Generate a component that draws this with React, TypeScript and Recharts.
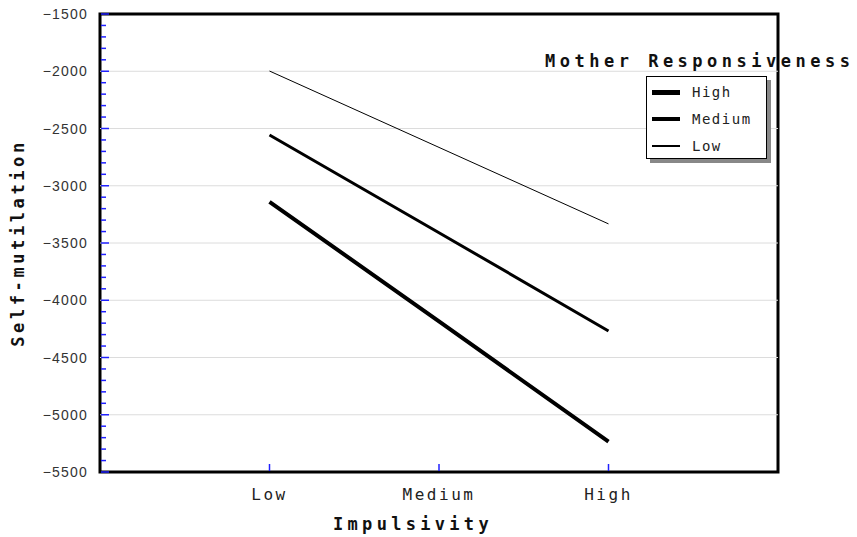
import React from "react";
import {
  LineChart,
  Line,
  XAxis,
  YAxis,
  ReferenceLine,
  ReferenceArea,
  Legend,
} from "recharts";

// impulsivity categories on the x axis
const categories = ["Low", "Medium", "High"];

// self-mutilation per mother responsiveness level
const highValues = [-3140, -4185, -5235];
const mediumValues = [-2557, -3410, -4268];
const lowValues = [-1998, -2665, -3333];

const seriesNames = ["High", "Medium", "Low"];
const seriesWidths = [4, 3, 1];
const legendWidths = [5, 4, 2];

const majorTicks = [-5500, -5000, -4500, -4000, -3500, -3000, -2500, -2000, -1500];
const minorTicks: number[] = [];
for (let v = -5500; v <= -1500; v += 100) minorTicks.push(v);
const gridValues = majorTicks.slice(1, -1);

const chartData = categories.map((c, i) => ({
  x: i + 1,
  name: c,
  High: highValues[i],
  Medium: mediumValues[i],
  Low: lowValues[i],
}));

const MONO = "'DejaVu Sans Mono', monospace";
const SANS = "'Liberation Sans', Arial, sans-serif";

const YTick = (props: any) => {
  const { x, y, payload } = props;
  const major = payload.value % 500 === 0;
  return (
    <g>
      <line x1={x + 1} x2={x + (major ? 9 : 6)} y1={y} y2={y} stroke="#2020ff" strokeWidth={1.5} />
      {major && (
        <text x={x - 12} y={y + 5} textAnchor="end" fontFamily={SANS} fontSize={14} letterSpacing={1.2} fill="#333">
          {payload.value < 0 ? "\u2212" + Math.abs(payload.value) : payload.value}
        </text>
      )}
    </g>
  );
};

const XTick = (props: any) => {
  const { x, y, payload } = props;
  return (
    <g>
      <line x1={x} x2={x} y1={y - 1} y2={y - 8} stroke="#2020ff" strokeWidth={1.5} />
      <text x={x} y={y + 28} textAnchor="middle" fontFamily={MONO} fontSize={16} letterSpacing={2.5} fill="#222">
        {categories[payload.value - 1]}
      </text>
    </g>
  );
};

const LegendBox = () => (
  <div style={{ position: "relative", width: 320, height: 120 }}>
    <div
      style={{
        position: "absolute",
        left: 0,
        top: 1,
        fontFamily: MONO,
        fontWeight: "bold",
        fontSize: 17,
        letterSpacing: 4.5,
        color: "#111",
        whiteSpace: "nowrap",
      }}
    >
      Mother Responsiveness
    </div>
    <div
      style={{
        position: "absolute",
        left: 101,
        top: 26,
        width: 119,
        height: 81,
        border: "1px solid #000",
        background: "#fff",
        boxShadow: "4px 4px 0 #888",
      }}
    >
      {seriesNames.map((n, i) => (
        <div key={n} style={{ position: "absolute", left: 5, top: 7 + i * 27, height: 16, display: "flex", alignItems: "center" }}>
          <div style={{ width: 28, height: legendWidths[i], background: "#000" }} />
          <span style={{ marginLeft: 12, fontFamily: MONO, fontSize: 14, letterSpacing: 1.5, color: "#222" }}>{n}</span>
        </div>
      ))}
    </div>
  </div>
);

export default function App() {
  return (
    <div style={{ position: "absolute", left: 0, top: 0, background: "#fff" }}>
      <LineChart width={857} height={537} data={chartData} margin={{ top: 14, right: 79, left: 0, bottom: 0 }}>
        <XAxis
          dataKey="x"
          type="number"
          domain={[0, 4]}
          ticks={[1, 2, 3]}
          height={65}
          axisLine={false}
          tickLine={false}
          tickSize={0}
          tickMargin={0}
          tick={<XTick />}
          label={{
            content: ({ viewBox }: any) => (
              <text
                x={viewBox.x + viewBox.width / 2 - 26}
                y={viewBox.y + 58}
                textAnchor="middle"
                fontFamily={MONO}
                fontWeight="bold"
                fontSize={17}
                letterSpacing={4.3}
                fill="#111"
              >
                Impulsivity
              </text>
            ),
          }}
        />
        <YAxis
          type="number"
          domain={[-5500, -1500]}
          ticks={minorTicks}
          interval={0}
          width={100}
          axisLine={false}
          tickLine={false}
          tickSize={0}
          tickMargin={0}
          tick={<YTick />}
          label={{
            content: ({ viewBox }: any) => {
              const cx = viewBox.x + 24;
              const cy = viewBox.y + viewBox.height / 2;
              return (
                <text
                  x={cx}
                  y={cy}
                  transform={`rotate(-90 ${cx} ${cy})`}
                  textAnchor="middle"
                  fontFamily={MONO}
                  fontWeight="bold"
                  fontSize={17}
                  letterSpacing={3.6}
                  fill="#111"
                >
                  Self-mutilation
                </text>
              );
            },
          }}
        />
        {gridValues.map((v) => (
          <ReferenceLine key={v} y={v} stroke="#dcdcdc" strokeWidth={1} />
        ))}
        <Legend
          layout="vertical"
          verticalAlign="middle"
          align="center"
          content={<LegendBox />}
          wrapperStyle={{ left: 545, top: 50, width: 320 }}
        />
        {seriesNames.map((n, i) => (
          <Line
            key={n}
            dataKey={n}
            type="linear"
            stroke="#000"
            strokeWidth={seriesWidths[i]}
            dot={false}
            activeDot={false}
            isAnimationActive={false}
          />
        ))}
        <ReferenceArea
          x1={0}
          x2={4}
          y1={-5500}
          y2={-1500}
          fill="none"
          fillOpacity={0}
          stroke="#000"
          strokeOpacity={1}
          strokeWidth={3}
          ifOverflow="visible"
        />
      </LineChart>
    </div>
  );
}
